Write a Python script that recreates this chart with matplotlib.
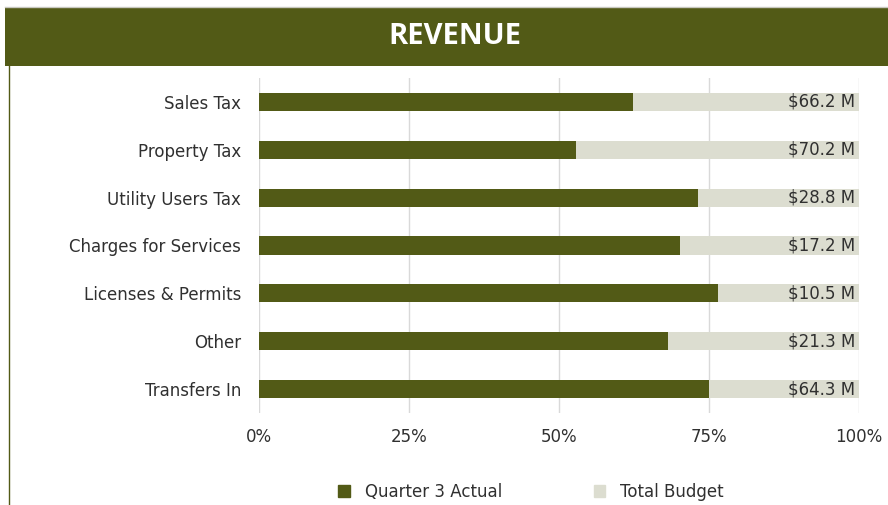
import matplotlib.pyplot as plt
from matplotlib.patches import Rectangle
from matplotlib.lines import Line2D

categories = ["Sales Tax", "Property Tax", "Utility Users Tax", "Charges for Services",
              "Licenses & Permits", "Other", "Transfers In"]
actual_pct = [62.3, 52.8, 73.2, 70.2, 76.5, 68.2, 75.0]
budget_pct = [100, 100, 100, 100, 100, 100, 100]
budget_labels = ["$66.2 M", "$70.2 M", "$28.8 M", "$17.2 M", "$10.5 M", "$21.3 M", "$64.3 M"]
ticks = [0, 25, 50, 75, 100]

olive = "#525a16"
light = "#dcddd0"
text_c = "#303030"

plt.rcParams['font.family'] = ['DejaVu Sans']

fig = plt.figure(figsize=(8.88, 5.05), dpi=100)

# title banner
fig.patches.append(Rectangle((5/888, 1-66/505), 1, 59/505, transform=fig.transFigure,
                             facecolor=olive, edgecolor="none", zorder=0))
fig.add_artist(Line2D([5/888, 1], [1-6.5/505, 1-6.5/505], transform=fig.transFigure,
                      color="#c8c8c0", lw=1))
fig.text(0.512, 1-37/505, "REVENUE", color="white", fontsize=21, fontweight="bold",
         family=["Open Sans", "DejaVu Sans"], ha="center", va="center")
# left frame line
fig.add_artist(Line2D([8.5/888, 8.5/888], [0, 1-66/505], transform=fig.transFigure,
                      color=olive, lw=1))

ax = fig.add_axes([259/888, 1-413/505, 600/888, 335/505])
y = list(range(len(categories)))
ax.barh(y, budget_pct, height=0.38, color=light, zorder=2)
ax.barh(y, actual_pct, height=0.38, color=olive, zorder=3)
for yi, lab in zip(y, budget_labels):
    ax.text(99.4, yi, lab, ha="right", va="center", fontsize=12, color=text_c, zorder=4)

ax.set_xlim(0, 100)
ax.set_ylim(len(categories) - 0.5, -0.5)
ax.set_yticks(y)
ax.set_yticklabels(categories, fontsize=12, color=text_c)
ax.set_xticks(ticks)
ax.set_xticklabels([f"{t}%" for t in ticks], fontsize=12, color=text_c)
ax.tick_params(length=0)
ax.tick_params(axis="x", pad=11)
ax.tick_params(axis="y", pad=13)
ax.grid(axis="x", color="#d9d9d9", lw=1, zorder=1)
for s in ax.spines.values():
    s.set_visible(False)

handles = [Rectangle((0, 0), 1, 1, color=olive), Rectangle((0, 0), 1, 1, color=light)]
fig.legend(handles, ["Quarter 3 Actual", "Total Budget"], loc="center",
           bbox_to_anchor=(0.598, 1-492/505), ncol=2, frameon=False, fontsize=12,
           handlelength=0.7, handleheight=0.7, columnspacing=5.5, handletextpad=0.9,
           labelcolor=text_c)

fig.savefig("out.png", dpi=100)
